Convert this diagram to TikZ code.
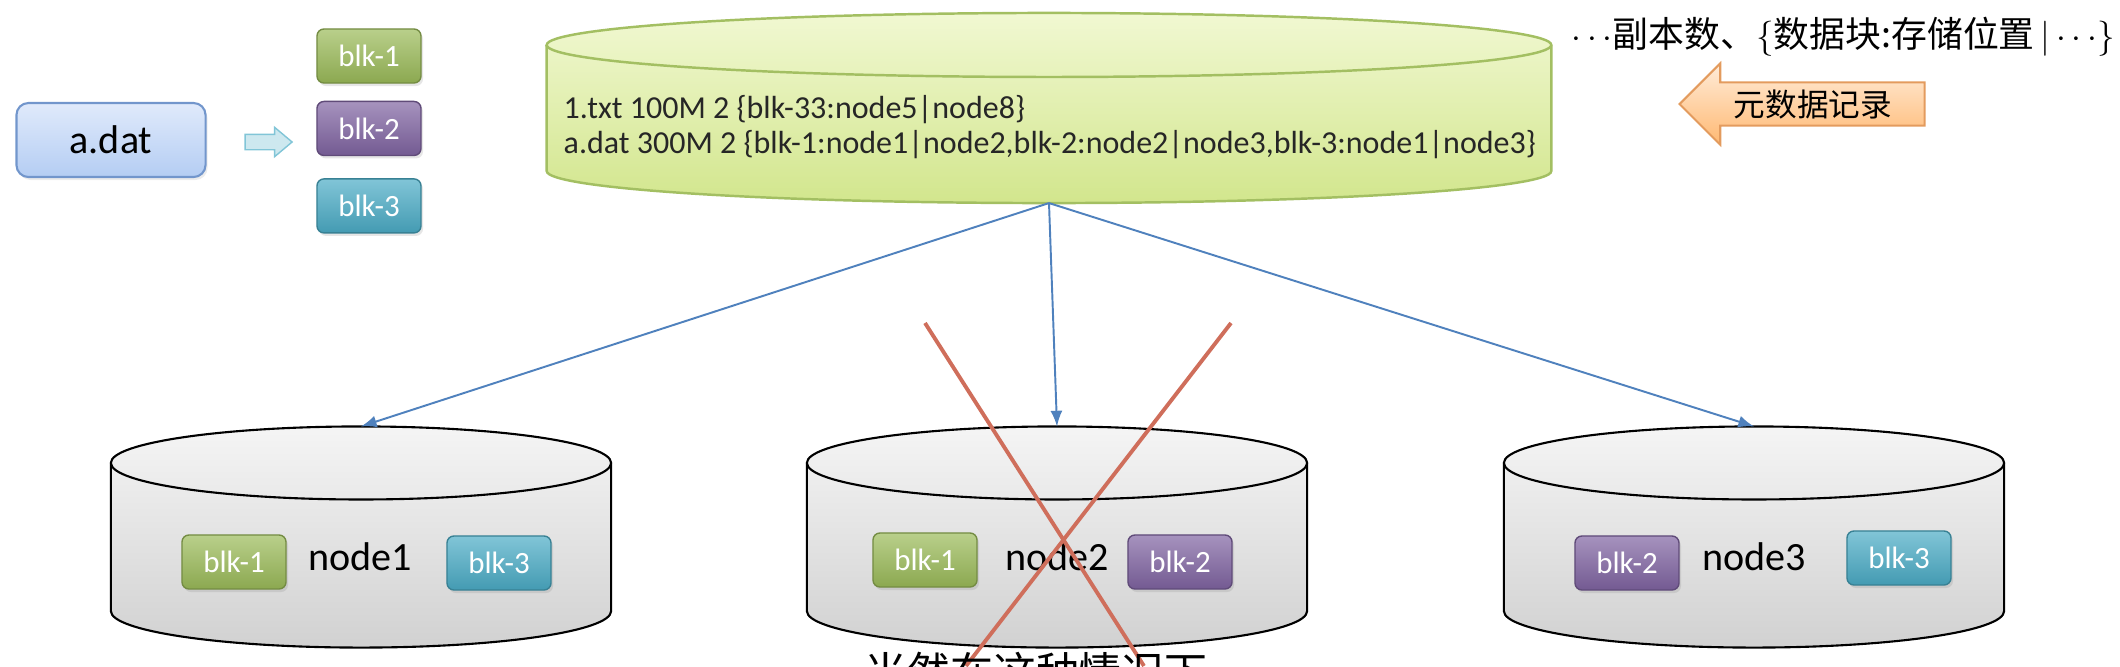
\documentclass[tikz,border=0pt]{standalone}
\usepackage{fontspec}
\setmainfont{Carlito}
\newfontfamily\cjk{Noto Sans CJK SC}
\usetikzlibrary{positioning,shapes.arrows,shadows}
\definecolor{blkgreen}{HTML}{9BBB59}
\definecolor{blkpurple}{HTML}{8064A2}
\definecolor{blkcyan}{HTML}{4BACC6}
\definecolor{metatop}{HTML}{F1F8D2}
\definecolor{metabottom}{HTML}{D2E68D}
\definecolor{metaedge}{HTML}{A3BF62}
\definecolor{linkblue}{HTML}{4F81BD}
\definecolor{crossred}{HTML}{CF6E5B}
\definecolor{dattop}{HTML}{E0EAFB}
\definecolor{datbottom}{HTML}{B4CDF3}
\definecolor{datedge}{HTML}{7296CC}
\definecolor{recedge}{HTML}{E39B5E}
% cylinder drawn round an empty box node: #1 node, #2 x radius, #3 y radius, #4 style
\newcommand\drawdisk[4]{%
  \path[#4] ([yshift=-#3]#1.north west) -- ([yshift=#3]#1.south west)
    arc[start angle=180, end angle=360, x radius=#2, y radius=#3]
    -- ([yshift=-#3]#1.north east)
    arc[start angle=0, end angle=180, x radius=#2, y radius=#3] -- cycle;
  \path[#4, shade=none, fill=none] ([yshift=-#3]#1.north west)
    arc[start angle=180, end angle=360, x radius=#2, y radius=#3];
}

\begin{document}
\begin{tikzpicture}[
x=0.01cm, y=-0.01cm,
blk/.style={
  draw=#1!75!black,
  top color=#1!70!white,
  bottom color=#1!90!black,
  rounded corners=0.07cm,
  minimum width=1.04cm,
  minimum height=0.54cm,
  text=white,
  font=\fontsize{8.8}{10}\selectfont,
  drop shadow={opacity=0.2,shadow xshift=0.02cm,shadow yshift=-0.03cm}
  },
diskbox/.style={inner sep=0pt, outer sep=0pt, minimum width=5cm, minimum height=2.21cm},
disk/.style={draw, line width=0.6pt, top color=gray!8, bottom color=gray!36},
metadisk/.style={draw=metaedge, line width=0.7pt, top color=metatop, bottom color=metabottom},
disklabel/.style={font=\fontsize{11.4}{13}\selectfont},
link/.style={-latex, draw=linkblue, line width=0.55pt},
cross/.style={draw=crossred, line width=1.1pt}
]
\useasboundingbox (0,0) rectangle (2120,666);
\clip (0,0) rectangle (2120,666);

% file and its blocks
\node[draw=datedge, line width=0.6pt, top color=dattop, bottom color=datbottom,
  rounded corners=0.12cm, minimum width=1.89cm, minimum height=0.74cm,
  font=\fontsize{11.4}{13}\selectfont,
  drop shadow={opacity=0.15,shadow xshift=0.02cm,shadow yshift=-0.03cm}] (adat) at (111,140) {a.dat};
\node[single arrow, draw=blkcyan!70, fill=blkcyan!28, inner xsep=0pt, inner ysep=0.07cm,
  minimum height=0.47cm, single arrow head extend=0.07cm, single arrow tip angle=80] (split) at (264,142) {};
\node[blk=blkgreen] (b1) at (369,56) {blk-1};
\node[blk=blkpurple, below=0.17cm of b1] (b2) {blk-2};
\node[blk=blkcyan, below=0.22cm of b2] (b3) {blk-3};

% metadata
\node[inner sep=0pt, outer sep=0pt, minimum width=10.04cm, minimum height=1.9cm] (meta) at (1049,108) {};
\drawdisk{meta}{5.02cm}{0.32cm}{metadisk}
\node[anchor=west, align=left, inner sep=0pt, text=black!85,
  font=\fontsize{9.1}{10}\selectfont] (records) at (563,127)
  {1.txt 100M 2 \{blk-33:node5|node8\}\\
   a.dat 300M 2 \{blk-1:node1|node2,blk-2:node2|node3,blk-3:node1|node3\}};
\node[anchor=west, inner sep=0pt, font=\cjk\fontsize{10.2}{12}\selectfont] (legend) at (1571,37)
  {$\cdots$副本数、$\{$数据块:存储位置$\,|\cdots\}$};
\node[single arrow, shape border rotate=180, draw=recedge, line width=0.6pt,
  top color=orange!15, bottom color=orange!55!white,
  minimum height=2.45cm, inner ysep=0.06cm, single arrow head extend=0.19cm,
  font=\cjk\fontsize{9}{10}\selectfont, anchor=tip] (rec) at (1678,104) {元数据记录};

% data nodes
\foreach \i/\x in {1/361,2/1057,3/1754} {
  \node[diskbox] (d\i) at (\x,537) {};
  \drawdisk{d\i}{2.5cm}{0.365cm}{disk}
}

\node[disklabel] (l1) at (360,557) {node1};
\node[blk=blkgreen] (d1b1) at (234,562) {blk-1};
\node[blk=blkcyan] (d1b3) at (499,563) {blk-3};

\node[disklabel] (l2) at (1057,557) {node2};
\node[blk=blkgreen] (d2b1) at (925,560) {blk-1};
\node[blk=blkpurple] (d2b2) at (1180,562) {blk-2};

\node[disklabel] (l3) at (1754,557) {node3};
\node[blk=blkpurple] (d3b2) at (1627,563) {blk-2};
\node[blk=blkcyan] (d3b3) at (1899,558) {blk-3};

\foreach \i in {1,2,3}
  \draw[link] (meta.south) -- (d\i.north);

% node2 is down
\coordinate (x1a) at (925,323);
\coordinate (x1b) at (1144,666);
\coordinate (x2a) at (1231,323);
\coordinate (x2b) at (966,666);
\draw[cross] (x1a) -- (x1b);
\draw[cross] (x2a) -- (x2b);

\node[anchor=north, inner sep=0pt, font=\cjk\fontsize{12.2}{14}\selectfont] (caption) at (1036,651) {当然在这种情况下};
\end{tikzpicture}
\end{document}
